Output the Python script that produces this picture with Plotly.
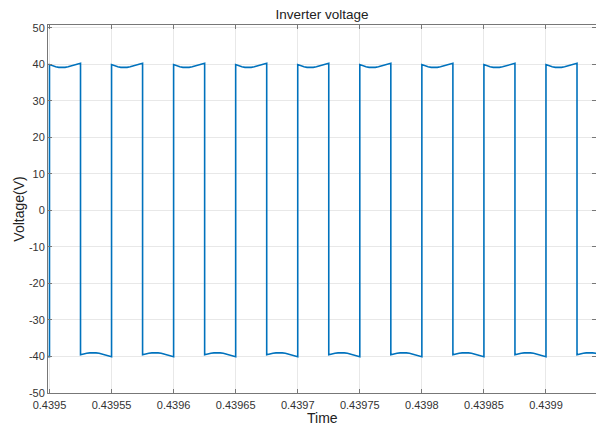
import plotly.graph_objects as go

# Switching instants of the inverter output (s)
rise_times = [0.4395, 0.43955, 0.4396, 0.43965, 0.4397, 0.43975, 0.4398, 0.43985, 0.4399]
fall_times = [0.439525, 0.439575, 0.439625, 0.439675, 0.439725, 0.439775, 0.439825, 0.439875, 0.439925]
end_time = 0.43995
start_time = 0.43949

# Ripple across each half period, sampled at fractions of the half period
seg_frac = [0.0, 0.1, 0.2, 0.3, 0.4, 0.5, 0.6, 0.7, 0.8, 0.9, 1.0]
high_shape = [39.95, 39.6, 39.35, 39.2, 39.15, 39.2, 39.35, 39.6, 39.9, 40.1, 40.3]
low_shape = [-39.5, -39.25, -39.1, -39.0, -38.95, -39.0, -39.1, -39.3, -39.55, -39.8, -40.05]

x_tickvals = [0.4395, 0.43955, 0.4396, 0.43965, 0.4397, 0.43975, 0.4398, 0.43985, 0.4399]
x_ticktext = ["0.4395", "0.43955", "0.4396", "0.43965", "0.4397", "0.43975", "0.4398", "0.43985", "0.4399"]
y_tickvals = [-50, -40, -30, -20, -10, 0, 10, 20, 30, 40, 50]
y_ticktext = ["-50", "-40", "-30", "-20", "-10", "0", "10", "20", "30", "40", "50"]

# Assemble the waveform from the switching instants and ripple samples
t = [start_time, rise_times[0]]
v = [low_shape[-1], low_shape[-1]]
next_rises = rise_times[1:] + [end_time]
for r, f, nr in zip(rise_times, fall_times, next_rises):
    for fr, val in zip(seg_frac, high_shape):
        t.append(r + fr * (f - r))
        v.append(val)
    for fr, val in zip(seg_frac, low_shape):
        t.append(f + fr * (nr - f))
        v.append(val)

fig = go.Figure()
fig.add_trace(go.Scatter(
    x=t, y=v, mode="lines",
    line=dict(color="#0072BD", width=1.6),
    showlegend=False, hoverinfo="skip",
))

axis_font = dict(family="Liberation Sans, Arial, sans-serif", size=11, color="#333333")
title_font = dict(family="Liberation Sans, Arial, sans-serif", size=14, color="#222222")

fig.update_layout(
    width=596, height=426,
    margin=dict(l=48, r=0, t=25, b=33),
    paper_bgcolor="white", plot_bgcolor="white",
    title=dict(text="Inverter voltage", x=0.5, xref="paper", xanchor="center",
               y=1 - 14 / 426, yref="container", yanchor="middle",
               font=dict(family="Liberation Sans, Arial, sans-serif", size=13.5, color="#222222")),
    xaxis=dict(
        range=[0.4394988, 0.4399403],
        tickvals=x_tickvals, ticktext=x_ticktext,
        ticks="inside", ticklen=4, tickcolor="#777777",
        showline=True, linecolor="#777777", linewidth=1, mirror="allticks",
        showgrid=True, gridcolor="#e8e8e8", gridwidth=1,
        zeroline=False, tickfont=axis_font, ticklabelstandoff=2,
        automargin=False,
    ),
    yaxis=dict(
        range=[-50, 50.8],
        tickvals=y_tickvals, ticktext=y_ticktext,
        ticks="inside", ticklen=4, tickcolor="#777777",
        showline=True, linecolor="#777777", linewidth=1, mirror="allticks",
        showgrid=True, gridcolor="#e8e8e8", gridwidth=1,
        zeroline=False, tickfont=axis_font,
        title=dict(text="Voltage(V)", font=title_font, standoff=0),
        automargin=False,
    ),
    annotations=[dict(
        text="Time", xref="paper", yref="paper", x=0.5, y=-0.068,
        xanchor="center", yanchor="middle", showarrow=False, font=title_font,
        borderpad=0,
    )],
)

fig.write_html("out.html")
